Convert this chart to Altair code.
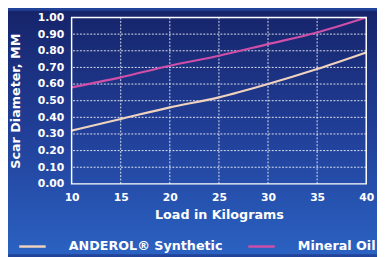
import altair as alt
import pandas as pd

# ---- data ----
loads = [10, 15, 20, 25, 30, 35, 40]
anderol = [0.32, 0.39, 0.46, 0.52, 0.60, 0.69, 0.79]
mineral = [0.58, 0.64, 0.71, 0.77, 0.84, 0.91, 1.00]
series = ["ANDEROL® Synthetic", "Mineral Oil"]
colors = ["#efd3bf", "#cf4fa8"]
x_ticks = [10, 15, 20, 25, 30, 35, 40]
y_ticks = [0.0, 0.1, 0.2, 0.3, 0.4, 0.5, 0.6, 0.7, 0.8, 0.9, 1.0]
x_grid = [15, 20, 25, 30, 35]
y_grid = [0.1, 0.2, 0.3, 0.4, 0.5, 0.6, 0.7, 0.8, 0.9]

W, H = 301, 170
PAD = {"left": 65, "top": 7, "right": 11, "bottom": 72}
FONT = "DejaVu Sans"

df = pd.DataFrame({
    "load": loads + loads,
    "scar": anderol + mineral,
    "series": [series[0]] * len(loads) + [series[1]] * len(loads),
})
one = pd.DataFrame({"a": [0]})

xscale = alt.Scale(domain=[10, 40], nice=False, zero=False)
yscale = alt.Scale(domain=[0, 1], nice=False, zero=False)

xaxis = alt.Axis(values=x_ticks, title="Load in Kilograms", grid=False, domain=False,
                 ticks=False, labelPadding=8, labelFont=FONT, labelFontWeight="bold",
                 labelFontSize=11, labelColor="white", labelFlush=False,
                 titleFont=FONT, titleFontWeight="bold", titleFontSize=13,
                 titleColor="white", titleY=31, titleBaseline="middle", zindex=1)
yaxis = alt.Axis(values=y_ticks, format=".2f", title="Scar Diameter, MM", grid=False,
                 domain=False, ticks=False, labelPadding=8, labelFont=FONT,
                 labelFontWeight="bold", labelFontSize=11, labelColor="white",
                 labelFlush=False, titleFont=FONT, titleFontWeight="bold",
                 titleFontSize=13, titleColor="white", titleX=-57, titleY=H / 2,
                 titleBaseline="middle", titleAlign="center", titleAngle=270, zindex=1)

gradient = alt.Gradient(
    gradient="linear",
    stops=[alt.GradientStop(color="#16246a", offset=0),
           alt.GradientStop(color="#213f98", offset=0.5),
           alt.GradientStop(color="#2b62c2", offset=1)],
    x1=0, x2=0, y1=0, y2=1,
)

bg = alt.Chart(one).mark_rect(fill=gradient).encode(
    x=alt.value(-PAD["left"]), x2=alt.value(W + PAD["right"]),
    y=alt.value(-PAD["top"]), y2=alt.value(H + PAD["bottom"]),
)

hgrid = alt.Chart(pd.DataFrame({"v": y_grid})).mark_rule(
    color="white", strokeDash=[2, 1.5], strokeWidth=1, opacity=0.85
).encode(y=alt.Y("v:Q", scale=yscale, axis=yaxis))

vgrid = alt.Chart(pd.DataFrame({"v": x_grid})).mark_rule(
    color="white", strokeDash=[2, 1.5], strokeWidth=1, opacity=0.85
).encode(x=alt.X("v:Q", scale=xscale, axis=xaxis))

border = alt.Chart(one).mark_rect(filled=False, stroke="white", strokeWidth=1.5).encode(
    x=alt.value(0), x2=alt.value(W), y=alt.value(0), y2=alt.value(H)
)

lines = alt.Chart(df).mark_line(strokeWidth=2.2, interpolate="monotone").encode(
    x=alt.X("load:Q", scale=xscale, axis=xaxis),
    y=alt.Y("scar:Q", scale=yscale, axis=yaxis),
    color=alt.Color(
        "series:N",
        scale=alt.Scale(domain=series, range=colors),
        legend=alt.Legend(
            orient="none", legendX=-55, legendY=219, direction="horizontal",
            title=None, symbolType="stroke", symbolSize=729, symbolStrokeWidth=2.5,
            labelFont=FONT, labelFontWeight="bold", labelFontSize=13,
            labelColor="white", labelOffset=22, columnPadding=20, padding=0,
            labelLimit=400, zindex=1,
        ),
    ),
)

chart = alt.layer(bg, hgrid, vgrid, lines, border).properties(
    width=W, height=H,
    autosize=alt.AutoSizeParams(type="none"),
    padding=PAD,
    background="#22439a",
).configure_view(strokeWidth=0)

chart.save("out.html", embed_options={"renderer": "svg", "actions": False})
